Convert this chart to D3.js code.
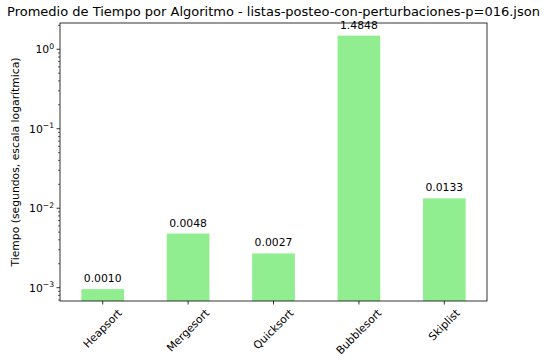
<!DOCTYPE html>
<html><head><meta charset="utf-8">
<script src="https://cdn.jsdelivr.net/npm/d3@7"></script>
<style>body{margin:0;background:#fff}svg{display:block}text{font-family:"DejaVu Sans",sans-serif;fill:#000}</style>
</head><body><svg id="c" width="545" height="361"></svg>
<script>
const categories = ["Heapsort","Mergesort","Quicksort","Bubblesort","Skiplist"];
const values = [0.00096, 0.0048, 0.0027, 1.4848, 0.0133];
const labels = ["0.0010","0.0048","0.0027","1.4848","0.0133"];
const yTickExps = [-3,-2,-1,0];
const title = "Promedio de Tiempo por Algoritmo - listas-posteo-con-perturbaciones-p=016.json";
const yLabel = "Tiempo (segundos, escala logarítmica)";

const fs = 10.8;
const svg = d3.select("#c");
const m = {l:60, r:487, t:23, b:301};
const x = d3.scaleBand().domain(categories).range([m.l, m.r]).paddingInner(0.5).paddingOuter(0.25);
const y = d3.scaleLog().domain([0.00068, 2.14]).range([m.b, m.t]);

svg.append("g").selectAll("rect").data(values).join("rect")
  .attr("x",(d,i)=>x(categories[i])).attr("width",x.bandwidth())
  .attr("y",d=>y(d)).attr("height",d=>m.b-y(d)).attr("fill","#90EE90");

svg.append("g").selectAll("text").data(values).join("text")
  .attr("x",(d,i)=>x(categories[i])+x.bandwidth()/2).attr("y",d=>y(d)-7)
  .attr("text-anchor","middle").attr("font-size",fs+"px").text((d,i)=>labels[i]);

// frame
svg.append("rect").attr("x",m.l).attr("y",m.t).attr("width",m.r-m.l).attr("height",m.b-m.t)
  .attr("fill","none").attr("stroke","#000").attr("stroke-width",0.8);

// y ticks
const gy = svg.append("g");
const minor = [];
for (let e=-4;e<=1;e++) for (let k=2;k<=9;k++){const v=k*Math.pow(10,e); if(v>=y.domain()[0]&&v<=y.domain()[1]) minor.push(v);}
gy.selectAll("line.mi").data(minor).join("line").attr("x1",m.l-2).attr("x2",m.l)
  .attr("y1",d=>y(d)).attr("y2",d=>y(d)).attr("stroke","#000").attr("stroke-width",0.6);
gy.selectAll("line.ma").data(yTickExps).join("line").attr("x1",m.l-3.5).attr("x2",m.l)
  .attr("y1",d=>y(Math.pow(10,d))).attr("y2",d=>y(Math.pow(10,d))).attr("stroke","#000").attr("stroke-width",0.8);
const yt = gy.selectAll("text").data(yTickExps).join("text")
  .attr("x",m.l-6).attr("y",d=>y(Math.pow(10,d))+4).attr("text-anchor","end").attr("font-size",fs+"px");
yt.append("tspan").text("10");
yt.append("tspan").attr("dy",-4.5).attr("font-size","7.6px").text(d=>d<0?"\u2212"+(-d):String(d));

// x ticks
const gx = svg.append("g");
categories.forEach(c=>{
  const cx = x(c)+x.bandwidth()/2;
  gx.append("line").attr("x1",cx).attr("x2",cx).attr("y1",m.b).attr("y2",m.b+3.5).attr("stroke","#000").attr("stroke-width",0.8);
  const t = gx.append("text").attr("font-size",fs+"px").attr("text-anchor","middle").attr("dominant-baseline","central").text(c);
  const w = t.node().getComputedTextLength(), h = fs*1.1;
  const bb = (w+h)/Math.SQRT2;
  t.attr("transform",`translate(${cx},${m.b+3.5+2.5+bb/2}) rotate(-45)`);
});

svg.append("text").attr("x",(m.l+m.r)/2-0).attr("y",16).attr("text-anchor","middle").attr("font-size","13px").text(title);
svg.append("text").attr("transform",`translate(19,${(m.t+m.b)/2}) rotate(-90)`).attr("text-anchor","middle").attr("font-size",fs+"px").text(yLabel);
</script></body></html>
